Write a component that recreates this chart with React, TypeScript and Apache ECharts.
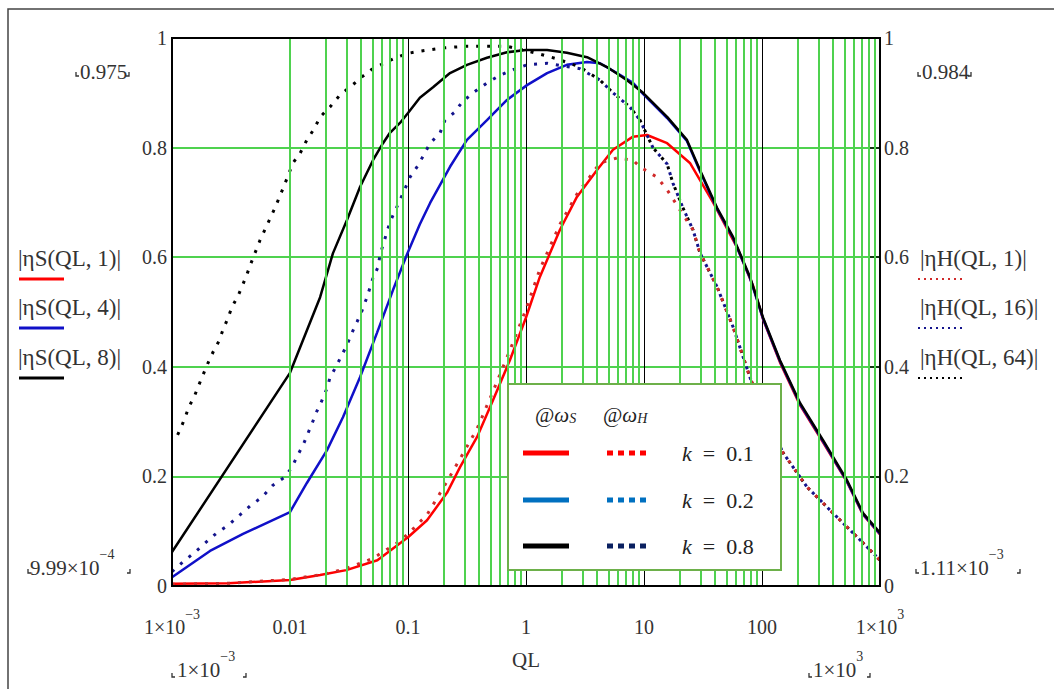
import React, { useEffect, useRef } from 'react';
import * as echarts from 'echarts';

// ---------- data ----------
const xTickLabels = ['1×10^−3', '0.01', '0.1', '1', '10', '100', '1×10^3'];
const yTickLabels = ['0', '0.2', '0.4', '0.6', '0.8', '1'];
const decades = [-3, -2, -1, 0, 1, 2];
const minorMultipliers = [2, 3, 4, 5, 6, 7, 8, 9];

// |ηS(QL,1)|  (k = 0.1, @ωS)
const qlS1 = [0.001, 0.003, 0.01, 0.018, 0.03, 0.055, 0.1, 0.145, 0.214, 0.276, 0.385, 0.525, 0.73, 1.0, 1.31, 1.94, 2.7, 4.0, 5.46, 8.07, 10.6, 15.7, 24.5, 38.5, 61.4, 83.9, 102, 142, 210, 329, 525, 718, 1000];
const vS1 = [0.004, 0.005, 0.011, 0.02, 0.029, 0.047, 0.089, 0.12, 0.17, 0.217, 0.272, 0.339, 0.412, 0.49, 0.564, 0.65, 0.71, 0.759, 0.796, 0.82, 0.823, 0.808, 0.772, 0.7, 0.618, 0.548, 0.487, 0.408, 0.33, 0.262, 0.19, 0.13, 0.094];

// |ηS(QL,4)|  (k = 0.2, @ωS)
const qlS4 = [0.001, 0.0021, 0.004, 0.01, 0.0139, 0.0206, 0.0281, 0.0392, 0.0546, 0.0746, 0.098, 0.126, 0.154, 0.227, 0.316, 0.467, 0.69, 1.02, 1.51, 2.22, 3.29, 4.24, 5.9, 8.07, 9.81, 15.7, 23.1, 29.8, 41.6, 56.8, 79.1, 102, 142, 210, 329, 525, 718, 1000];
const vS4 = [0.016, 0.064, 0.095, 0.135, 0.188, 0.248, 0.308, 0.381, 0.462, 0.54, 0.605, 0.66, 0.699, 0.765, 0.814, 0.85, 0.887, 0.914, 0.936, 0.951, 0.956, 0.954, 0.936, 0.918, 0.898, 0.854, 0.812, 0.757, 0.688, 0.635, 0.562, 0.488, 0.41, 0.332, 0.264, 0.191, 0.131, 0.095];

// |ηS(QL,8)|  (k = 0.8, @ωS)
const qlS8 = [0.001, 0.01, 0.0129, 0.018, 0.0231, 0.0304, 0.0392, 0.0505, 0.0614, 0.0703, 0.0855, 0.1, 0.126, 0.163, 0.227, 0.316, 0.467, 0.69, 1.0, 1.51, 2.22, 3.29, 4.86, 7.18, 9.81, 15.7, 23.1, 29.8, 41.6, 56.8, 79.1, 102, 142, 210, 329, 525, 718, 1000];
const vS8 = [0.062, 0.389, 0.449, 0.527, 0.607, 0.668, 0.728, 0.777, 0.808, 0.827, 0.845, 0.863, 0.891, 0.91, 0.936, 0.951, 0.964, 0.974, 0.978, 0.978, 0.973, 0.965, 0.947, 0.923, 0.9, 0.856, 0.814, 0.759, 0.69, 0.637, 0.564, 0.49, 0.412, 0.334, 0.266, 0.193, 0.133, 0.097];

// |ηH(QL,1)|  (k = 0.1, @ωH)
const qlH1 = [0.001, 0.003, 0.01, 0.02, 0.03, 0.05, 0.08, 0.1, 0.145, 0.2, 0.276, 0.385, 0.525, 0.73, 1.0, 1.31, 1.94, 2.7, 4.24, 5.9, 8.07, 9.25, 12.9, 15.7, 20.2, 26, 29.8, 41.6, 56.8, 79, 96, 151, 240, 400, 678, 1000];
const vH1 = [0.003, 0.005, 0.012, 0.022, 0.032, 0.05, 0.078, 0.095, 0.13, 0.18, 0.232, 0.287, 0.355, 0.43, 0.505, 0.578, 0.66, 0.715, 0.772, 0.781, 0.777, 0.765, 0.746, 0.723, 0.686, 0.65, 0.608, 0.546, 0.473, 0.381, 0.334, 0.243, 0.181, 0.133, 0.084, 0.047];

// |ηH(QL,16)| (k = 0.2, @ωH)
const qlH16 = [0.001, 0.00124, 0.00157, 0.0019, 0.0024, 0.003, 0.00377, 0.00458, 0.00579, 0.00717, 0.00907, 0.0104, 0.0115, 0.0129, 0.0154, 0.0169, 0.0187, 0.0206, 0.0218, 0.0245, 0.0276, 0.0304, 0.0335, 0.037, 0.0407, 0.044, 0.0476, 0.0505, 0.0557, 0.0579, 0.0703, 0.0855, 0.104, 0.122, 0.154, 0.187, 0.206, 0.25, 0.287, 0.356, 0.467, 0.602, 0.776, 1.02, 1.51, 1.94, 2.87, 4.24, 5.46, 7.6, 9.25, 11.9, 15.7, 17.6, 21.4, 26, 29.8, 41.6, 56.8, 79, 96, 151, 240, 400, 678, 1000];
const vH16 = [0.026, 0.044, 0.062, 0.078, 0.097, 0.111, 0.13, 0.146, 0.162, 0.184, 0.199, 0.217, 0.237, 0.257, 0.297, 0.319, 0.339, 0.361, 0.38, 0.4, 0.422, 0.44, 0.462, 0.482, 0.502, 0.522, 0.544, 0.562, 0.582, 0.604, 0.664, 0.704, 0.746, 0.768, 0.808, 0.827, 0.85, 0.865, 0.883, 0.9, 0.918, 0.932, 0.942, 0.951, 0.954, 0.95, 0.944, 0.923, 0.9, 0.874, 0.85, 0.8, 0.77, 0.735, 0.69, 0.65, 0.608, 0.546, 0.473, 0.381, 0.334, 0.243, 0.181, 0.133, 0.084, 0.047];

// |ηH(QL,64)| (k = 0.8, @ωH)
const qlH64 = [0.00106, 0.00117, 0.00129, 0.00139, 0.00154, 0.00169, 0.00183, 0.00202, 0.00223, 0.0025, 0.0027, 0.00298, 0.00322, 0.00362, 0.004, 0.00432, 0.00467, 0.00557, 0.00746, 0.0089, 0.0106, 0.0122, 0.0139, 0.016, 0.018, 0.0218, 0.0265, 0.0329, 0.0407, 0.0495, 0.0626, 0.0791, 0.1, 0.119, 0.198, 0.316, 0.69, 1.24, 1.83, 2.87, 4.24, 5.46, 7.6, 9.25, 11.9, 15.7, 17.6, 21.4, 26, 29.8, 41.6, 56.8, 79, 96, 151, 240, 400, 678, 1000];
const vH64 = [0.266, 0.285, 0.307, 0.327, 0.345, 0.367, 0.385, 0.407, 0.427, 0.447, 0.467, 0.489, 0.509, 0.529, 0.551, 0.569, 0.589, 0.631, 0.69, 0.73, 0.772, 0.79, 0.814, 0.834, 0.856, 0.874, 0.896, 0.912, 0.929, 0.943, 0.954, 0.964, 0.972, 0.975, 0.982, 0.985, 0.985, 0.972, 0.962, 0.947, 0.923, 0.9, 0.874, 0.85, 0.8, 0.77, 0.735, 0.69, 0.65, 0.608, 0.546, 0.473, 0.381, 0.334, 0.243, 0.181, 0.133, 0.084, 0.047];

const legendRows = ['0.1', '0.2', '0.8'];
const leftLabels = ['|ηS(QL, 1)|', '|ηS(QL, 4)|', '|ηS(QL, 8)|'];
const rightLabels = ['|ηH(QL, 1)|', '|ηH(QL, 16)|', '|ηH(QL, 64)|'];

// ---------- styles ----------
const FONT = 'Liberation Serif, DejaVu Serif, serif';
const TXT = '#333';
const GREEN = '#4fd24f';
const RED = '#ff0000';
const PLOT_BLUE = '#1010c8';
const PLOT_BLUE_DOT = '#14148c';
const PLOT_RED_DOT = '#d02a2a';
const LEG_BLUE = '#0070c0';
const LEG_NAVY = '#0a2060';

const supRich = (size: number) => ({
  n: { fontSize: size, fontFamily: FONT, fill: TXT, color: TXT, lineHeight: size + 10, verticalAlign: 'bottom' },
  s: { fontSize: Math.round(size * 0.68), fontFamily: FONT, fill: TXT, color: TXT, lineHeight: size - 6, verticalAlign: 'top' },
});
const supText = (t: string) => {
  const p = t.split('^');
  return p.length > 1 ? `{n|${p[0]}}{s|${p[1]}}` : `{n|${t}}`;
};

function bracket(x: number, y: number, side: 'l' | 'r') {
  const pts = side === 'l' ? [[x, y - 4], [x, y], [x + 3, y]] : [[x - 3, y], [x, y], [x, y - 4]];
  return { type: 'polyline', z: 60, silent: true, shape: { points: pts }, style: { stroke: TXT, lineWidth: 1.3, fill: 'none' } };
}

function cornerLabel(text: string, x: number, y: number, bl: number, br: number, by: number) {
  return [
    { type: 'text', z: 60, silent: true, style: { text: supText(text), rich: supRich(21), x, y, align: 'left', verticalAlign: 'middle' } },
    bracket(bl, by, 'l'),
    bracket(br, by, 'r'),
  ];
}

export default function App() {
  const ref = useRef<HTMLDivElement>(null);
  useEffect(() => {
    const chart = echarts.init(ref.current!, null, { renderer: 'svg' });
    const pairs = (q: number[], v: number[]) => q.map((x, i) => [x, v[i]]);
    const minorX: any[] = [];
    decades.forEach((d) => minorMultipliers.forEach((m) => minorX.push({ xAxis: m * Math.pow(10, d) })));

    const curve = (name: string, q: number[], v: number[], color: string, dotted: boolean, z: number, offset = 0) => ({
      type: 'line',
      name,
      data: pairs(q, v),
      showSymbol: false,
      symbol: 'none',
      smooth: false,
      z,
      silent: true,
      lineStyle: dotted
        ? { color, width: 3, type: [3, 8], dashOffset: offset, cap: 'butt' }
        : { color, width: 2.5, type: 'solid' },
    });

    const yLabelFmt = (v: number) => yTickLabels[Math.round(v / 0.2)] ?? '';
    const xLabelFmt = (v: number) => supText(xTickLabels[Math.round(Math.log10(v)) + 3] ?? '');

    const graphics: any[] = [];
    graphics.push({ type: 'rect', z: 0, silent: true, shape: { x: 8, y: 9, width: 1100, height: 720 }, style: { fill: 'none', stroke: '#444', lineWidth: 1.5 } });
    graphics.push({ type: 'rect', z: 40, silent: true, shape: { x: 172, y: 38, width: 708, height: 548 }, style: { fill: 'none', stroke: '#000', lineWidth: 2 } });

    graphics.push(...cornerLabel('0.975', 80, 67, 76, 129, 76));
    graphics.push(...cornerLabel('0.984', 922, 67, 918, 971, 76));
    graphics.push(...cornerLabel('9.99×10^−4', 30, 563, 28, 130, 573));
    graphics.push(...cornerLabel('1.11×10^−3', 920, 563, 916, 1020, 573));
    graphics.push(...cornerLabel('1×10^−3', 177, 665, 172, 246, 677));
    graphics.push(...cornerLabel('1×10^3', 813, 665, 809, 870, 677));
    graphics.push({ type: 'text', z: 60, silent: true, style: { text: 'QL', x: 526, y: 660, align: 'center', verticalAlign: 'middle', fontSize: 21, fontFamily: FONT, fill: TXT } });

    const sideY = [258, 307, 357];
    const solidCols = [RED, PLOT_BLUE, '#000'];
    const dotCols = [PLOT_RED_DOT, PLOT_BLUE_DOT, '#000'];
    leftLabels.forEach((t, i) => {
      graphics.push({ type: 'text', z: 60, silent: true, style: { text: t, x: 18, y: sideY[i], align: 'left', verticalAlign: 'middle', fontSize: 23, fontFamily: FONT, fill: TXT } });
      graphics.push({ type: 'line', z: 60, silent: true, shape: { x1: 19, y1: sideY[i] + 21, x2: 64, y2: sideY[i] + 21 }, style: { stroke: solidCols[i], lineWidth: 3 } });
    });
    rightLabels.forEach((t, i) => {
      graphics.push({ type: 'text', z: 60, silent: true, style: { text: t, x: 920, y: sideY[i], align: 'left', verticalAlign: 'middle', fontSize: 23, fontFamily: FONT, fill: TXT } });
      graphics.push({ type: 'line', z: 60, silent: true, shape: { x1: 918, y1: sideY[i] + 21, x2: 962, y2: sideY[i] + 21 }, style: { stroke: dotCols[i], lineWidth: 2, lineDash: [2, 4] } });
    });

    graphics.push({ type: 'rect', z: 50, silent: true, shape: { x: 508, y: 384, width: 273, height: 186 }, style: { fill: '#fff', stroke: '#6db04a', lineWidth: 2 } });
    const subRich = {
      m: { fontSize: 21, fontFamily: FONT, fill: '#222', fontStyle: 'italic', verticalAlign: 'bottom', lineHeight: 24 },
      a: { fontSize: 21, fontFamily: FONT, fill: '#222', verticalAlign: 'bottom', lineHeight: 24 },
      b: { fontSize: 14, fontFamily: FONT, fill: '#222', fontStyle: 'italic', verticalAlign: 'bottom', lineHeight: 16 },
    };
    graphics.push({ type: 'text', z: 51, silent: true, style: { text: '{a|@}{m|ω}{b|S}', rich: subRich, x: 535, y: 413, align: 'left', verticalAlign: 'middle' } });
    graphics.push({ type: 'text', z: 51, silent: true, style: { text: '{a|@}{m|ω}{b|H}', rich: subRich, x: 603, y: 413, align: 'left', verticalAlign: 'middle' } });
    const rowY = [453, 500, 546];
    const legSolid = [RED, LEG_BLUE, '#000'];
    const legDot = [RED, LEG_BLUE, LEG_NAVY];
    legendRows.forEach((k, i) => {
      graphics.push({ type: 'line', z: 51, silent: true, shape: { x1: 523, y1: rowY[i], x2: 569, y2: rowY[i] }, style: { stroke: legSolid[i], lineWidth: 5 } });
      graphics.push({ type: 'line', z: 51, silent: true, shape: { x1: 607, y1: rowY[i], x2: 650, y2: rowY[i] }, style: { stroke: legDot[i], lineWidth: 5, lineDash: [6, 5] } });
      graphics.push({
        type: 'text', z: 51, silent: true,
        style: {
          text: `{i|k}{r|  =  ${k}}`,
          rich: {
            i: { fontSize: 22, fontFamily: FONT, fontStyle: 'italic', fill: '#222' },
            r: { fontSize: 22, fontFamily: FONT, fill: '#222' },
          },
          x: 682, y: rowY[i], align: 'left', verticalAlign: 'middle',
        },
      });
    });

    const axisLabelBase = { fontSize: 20, fontFamily: FONT, color: TXT, padding: [5, 0, 0, 0] };

    chart.setOption({
      animation: false,
      backgroundColor: '#fff',
      textStyle: { fontFamily: FONT },
      grid: { left: 172, top: 38, width: 708, height: 548, containLabel: false },
      xAxis: {
        type: 'log',
        logBase: 10,
        min: 0.001,
        max: 1000,
        splitNumber: 6,
        axisLine: { show: false },
        axisTick: { show: false },
        splitLine: { show: true, lineStyle: { color: '#000', width: 1 } },
        axisLabel: { formatter: xLabelFmt, margin: 21, showMinLabel: true, showMaxLabel: true, fontFamily: FONT, rich: supRich(20) },
      },
      yAxis: [
        {
          type: 'value', min: 0, max: 1, interval: 0.2, position: 'left',
          axisLine: { show: false }, axisTick: { show: false },
          splitLine: { show: true, lineStyle: { color: GREEN, width: 2 } },
          axisLabel: { ...axisLabelBase, formatter: yLabelFmt, margin: 5 },
        },
        {
          type: 'value', min: 0, max: 1, interval: 0.2, position: 'right',
          axisLine: { show: false },
          axisTick: { show: true, inside: true, length: 12, lineStyle: { color: '#000', width: 1.5 } },
          splitLine: { show: false },
          axisLabel: { ...axisLabelBase, formatter: yLabelFmt, margin: 4 },
        },
      ],
      series: [
        {
          type: 'line', name: 'minor grid', data: [], z: 1, silent: true,
          markLine: {
            silent: true, symbol: ['none', 'none'], label: { show: false },
            lineStyle: { color: GREEN, width: 2, type: 'solid' },
            emphasis: { disabled: true },
            data: minorX,
          },
        },
        curve('|ηS(QL,1)|', qlS1, vS1, RED, false, 3),
        curve('|ηS(QL,4)|', qlS4, vS4, PLOT_BLUE, false, 3),
        curve('|ηS(QL,8)|', qlS8, vS8, '#000', false, 3),
        curve('|ηH(QL,16)|', qlH16, vH16, PLOT_BLUE_DOT, true, 4, 0),
        curve('|ηH(QL,64)|', qlH64, vH64, '#000', true, 4, 5),
        curve('|ηH(QL,1)|', qlH1, vH1, PLOT_RED_DOT, true, 4, 0),
      ],
      graphic: graphics,
    });
    return () => chart.dispose();
  }, []);
  return <div ref={ref} style={{ position: 'fixed', left: 0, top: 0, width: 1054, height: 689, background: '#fff' }} />;
}
